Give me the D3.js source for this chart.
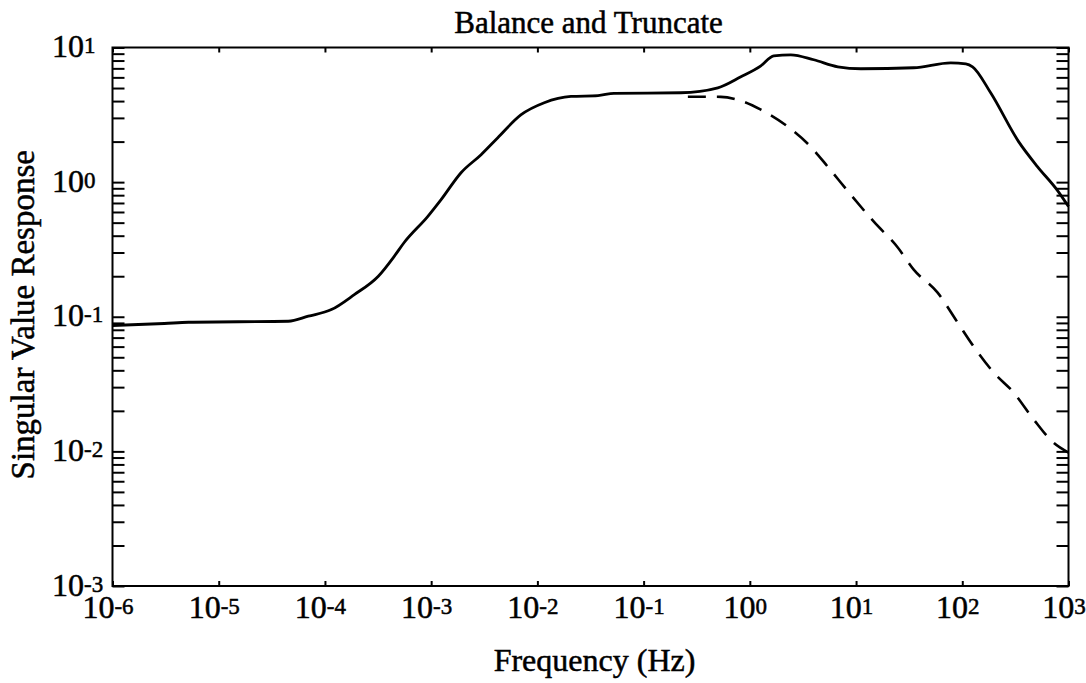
<!DOCTYPE html>
<html>
<head>
<meta charset="utf-8">
<script src="https://cdn.jsdelivr.net/npm/d3@7"></script>
<style>
  html, body { margin: 0; padding: 0; background: #fff; }
  svg text { font-family: "Liberation Serif", "Times New Roman", serif; fill: #000; }
</style>
</head>
<body>
<svg id="chart" width="1086" height="683"></svg>
<script>
// Full-order model: singular value response vs frequency (Hz)
const freqFull = [1e-6, 3.08e-6, 5.19e-6, 4.52e-5, 6.97e-5, 1.15e-4, 1.89e-4, 3.18e-4, 4.49e-4,
  5.57e-4, 9.31e-4, 1.24e-3, 1.91e-3, 2.95e-3, 4.24e-3, 7.03e-3, 1.16e-2, 2.07e-2, 3.72e-2,
  5.26e-2, 0.224, 0.500, 0.824, 1.27, 1.68, 2.43, 4.00, 6.73, 11.1, 34.9, 77.8, 108, 125, 185,
  339, 512, 789, 1000];
const svFull = [0.0861, 0.0891, 0.0910, 0.0926, 0.101, 0.113, 0.146, 0.200, 0.281,
  0.356, 0.557, 0.741, 1.175, 1.60, 2.14, 3.17, 3.89, 4.33, 4.39,
  4.57, 4.61, 5.02, 6.06, 7.31, 8.68, 8.83, 8.11, 7.19, 6.95, 7.07, 7.70, 7.56, 7.19, 4.61,
  2.00, 1.30, 0.865, 0.658];

// Truncated (reduced-order) model, where it departs from the full model
const freqTrunc = [0.261, 0.533, 0.771, 1.27, 2.28, 3.75, 5.42, 8.91, 14.7, 24.7, 34.9,
  58.6, 90.4, 128, 197, 304, 469, 723, 1000];
const svTrunc = [4.31, 4.30, 4.09, 3.45, 2.58, 1.83, 1.30, 0.807, 0.508, 0.327, 0.224,
  0.151, 0.0906, 0.0601, 0.0386, 0.0274, 0.0173, 0.0116, 0.0098];

// Axis ticks
const xTickValues = [1e-6, 1e-5, 1e-4, 1e-3, 1e-2, 1e-1, 1e0, 1e1, 1e2, 1e3];
const yTickValues = [1e-3, 1e-2, 1e-1, 1e0, 1e1];
const yMinorMultipliers = [2, 3, 4, 5, 6, 7, 8, 9];

const titleText = "Balance and Truncate";
const xLabelText = "Frequency (Hz)";
const yLabelText = "Singular Value Response";

const svg = d3.select("#chart");
const m = { left: 112.5, right: 1068.5, top: 47.5, bottom: 586 };

const x = d3.scaleLog().domain([1e-6, 1e3]).range([m.left, m.right]);
const y = d3.scaleLog().domain([1e-3, 1e1]).range([m.bottom, m.top]);

// all y ticks (decades plus 2..9 within each decade)
const yAllTicks = [];
yTickValues.forEach((d, i) => {
  yAllTicks.push(d);
  if (i < yTickValues.length - 1) yMinorMultipliers.forEach(k => yAllTicks.push(d * k));
});

const tickStroke = g => {
  g.select(".domain").remove();
  g.selectAll(".tick line").attr("stroke", "#000").attr("stroke-width", 2);
  g.selectAll(".tick text").remove();
};

// bottom / top ticks (inward)
svg.append("g").attr("transform", `translate(0,${m.bottom})`)
  .call(d3.axisBottom(x).tickValues(xTickValues).tickSize(-5)).call(tickStroke);
svg.append("g").attr("transform", `translate(0,${m.top})`)
  .call(d3.axisTop(x).tickValues(xTickValues).tickSize(-5)).call(tickStroke);

// left / right ticks (inward)
svg.append("g").attr("transform", `translate(${m.left},0)`)
  .call(d3.axisLeft(y).tickValues(yAllTicks).tickSize(-12)).call(tickStroke);
svg.append("g").attr("transform", `translate(${m.right},0)`)
  .call(d3.axisRight(y).tickValues(yAllTicks).tickSize(-12)).call(tickStroke);

// frame
svg.append("rect")
  .attr("x", m.left).attr("y", m.top)
  .attr("width", m.right - m.left).attr("height", m.bottom - m.top)
  .attr("fill", "none").attr("stroke", "#000").attr("stroke-width", 2);

// power-of-ten label: "10" followed by a raised, smaller exponent
function powerLabel(textSel, v) {
  const e = Math.round(Math.log10(v));
  textSel.text(null);
  textSel.append("tspan").text("10");
  textSel.append("tspan").attr("font-size", 23).attr("dy", -4).text(String(e));
}

const labelStyle = t => t.attr("stroke", "#000").attr("stroke-width", 0.5);

// x tick labels
const xl = svg.append("g").attr("transform", `translate(0,${m.bottom})`)
  .call(d3.axisBottom(x).tickValues(xTickValues).tickSize(0).tickFormat(() => ""));
xl.select(".domain").remove();
xl.selectAll(".tick text").each(function (d) {
  const t = d3.select(this);
  t.attr("y", 0).attr("dy", 32).attr("dx", -5).attr("text-anchor", "middle").attr("font-size", 32);
  labelStyle(t);
  powerLabel(t, d);
});

// y tick labels (left aligned column)
const yl = svg.append("g").attr("transform", `translate(${m.left},0)`)
  .call(d3.axisLeft(y).tickValues(yTickValues).tickSize(0).tickFormat(() => ""));
yl.select(".domain").remove();
yl.selectAll(".tick text").each(function (d) {
  const t = d3.select(this);
  t.attr("x", 52 - m.left).attr("dy", 9).attr("text-anchor", "start").attr("font-size", 32);
  labelStyle(t);
  powerLabel(t, d);
});

// curves
const line = d3.line().x(d => x(d[0])).y(d => y(d[1])).curve(d3.curveMonotoneX);

svg.append("path")
  .datum(d3.zip(freqTrunc, svTrunc))
  .attr("d", line).attr("fill", "none")
  .attr("stroke", "#000").attr("stroke-width", 2.6)
  .attr("stroke-dasharray", "18,11");

svg.append("path")
  .datum(d3.zip(freqFull, svFull))
  .attr("d", line).attr("fill", "none")
  .attr("stroke", "#000").attr("stroke-width", 2.8)
  .attr("stroke-linejoin", "round");

// title and axis labels
svg.append("text").attr("x", (m.left + m.right) / 2 - 2).attr("y", 33)
  .attr("text-anchor", "middle").attr("font-size", 31).text(titleText).call(labelStyle);

svg.append("text").attr("x", (m.left + m.right) / 2 + 4).attr("y", 671)
  .attr("text-anchor", "middle").attr("font-size", 32).text(xLabelText).call(labelStyle);

svg.append("text")
  .attr("transform", `translate(34,${(m.top + m.bottom) / 2 - 2}) rotate(-90)`)
  .attr("text-anchor", "middle").attr("font-size", 33).text(yLabelText).call(labelStyle);
</script>
</body>
</html>
